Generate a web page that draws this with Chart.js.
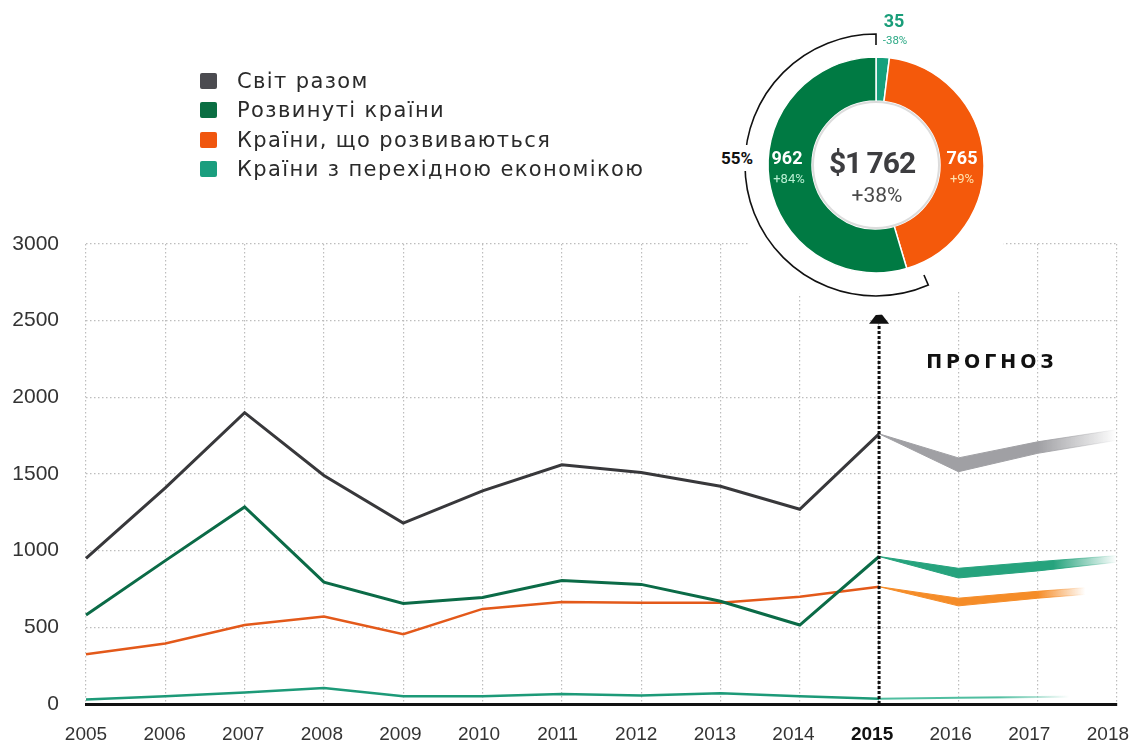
<!DOCTYPE html>
<html>
<head>
  <meta charset="utf-8">
  <title>Прогноз</title>
  <script src="https://cdn.jsdelivr.net/npm/chart.js@4.4.1/dist/chart.umd.min.js"></script>
  <style>
    html, body { margin: 0; padding: 0; background: #fff; }
    #wrap { position: relative; width: 1132px; height: 745px; overflow: hidden; font-family: "DejaVu Sans", sans-serif; }
    #lines { position: absolute; left: 0; top: 0; }
    #donut { position: absolute; left: 721px; top: 10px; }
    .t { position: absolute; transform: translate(-50%, -50%); white-space: nowrap; line-height: 1; font-family: Roboto, sans-serif; }
    .row { position: absolute; left: 200px; height: 20px; display: flex; align-items: center; }
    .sq { width: 17px; height: 16px; border-radius: 2px; margin-right: 20px; }
    .lab { font-size: 21px; color: #2a2a2a; letter-spacing: 1.4px; }
  </style>
</head>
<body>
<div id="wrap">
  <canvas id="lines" width="1132" height="745"></canvas>
  <canvas id="donut" width="310" height="310"></canvas>
  <div id="legend"></div>
  <div id="labels"></div>
</div>
<script>
  // --- data ---
  const years = ['2005', '2006', '2007', '2008', '2009', '2010', '2011', '2012', '2013', '2014', '2015', '2016', '2017', '2018'];
  const forecastIdx = 10; // 2015

  const names = ['Світ разом', 'Розвинуті країни', 'Країни, що розвиваються', 'Країни з перехідною економікою'];

  const world = [950, 1410, 1900, 1490, 1180, 1390, 1560, 1510, 1420, 1270, 1762];
  const developed = [580, 935, 1285, 795, 655, 695, 805, 780, 670, 515, 962];
  const developing = [325, 395, 515, 570, 455, 620, 665, 660, 660, 700, 765];
  const transition = [30, 50, 75, 105, 50, 50, 65, 55, 70, 50, 35];

  // forecast 2015..2018 (bands)
  const worldLow = [1762, 1515, 1635, 1720];
  const worldHigh = [1762, 1605, 1710, 1790];
  const devLow = [962, 822, 868, 925];
  const devHigh = [962, 885, 928, 968];
  const dvgLow = [765, 640, 690, 730];
  const dvgHigh = [765, 690, 735, 775];
  const transFc = [35, 40, 45, 50];

  const yMax = 3000;
  const yStep = 500;

  // 2015 structure
  const share = [35, 765, 962]; // transition, developing, developed
  const shareChange = ['-38%', '+9%', '+84%'];
  const total = 1762;
  const totalChange = '+38%';
  const developedPct = '55%';

  const colWorld = '#38383b', colDev = '#0b6b47', colDvg = '#e3591a', colTr = '#1d9a78';
  const legendCols = ['#4b4b50', '#0a6e42', '#f0560e', '#1a9e7e'];

  const pad = n => Array(n).fill(null);

  function fade(rgb, from, to) {
    return function(c) {
      const ch = c.chart;
      if (!ch.chartArea) return 'rgba(' + rgb + ',1)';
      const xs = ch.scales.x;
      const g = ch.ctx.createLinearGradient(xs.getPixelForValue(from), 0, xs.getPixelForValue(to), 0);
      g.addColorStop(0, 'rgba(' + rgb + ',1)');
      g.addColorStop(1, 'rgba(' + rgb + ',0)');
      return g;
    };
  }

  function band(low, high, rgb, from, to) {
    const f = fade(rgb, from, to);
    return [
      { data: pad(forecastIdx).concat(low), borderColor: f, borderWidth: 1, pointRadius: 0, fill: false },
      { data: pad(forecastIdx).concat(high), borderColor: f, backgroundColor: f, borderWidth: 1, pointRadius: 0, fill: '-1' }
    ];
  }

  // --- legend ---
  const leg = document.getElementById('legend');
  const rowY = [81, 110, 140, 169];
  names.forEach((n, i) => {
    const r = document.createElement('div');
    r.className = 'row';
    r.style.top = (rowY[i] - 10) + 'px';
    r.innerHTML = '<div class="sq" style="background:' + legendCols[i] + '"></div><span class="lab">' + n + '</span>';
    leg.appendChild(r);
  });

  // --- text labels around the donut ---
  const fmt = v => String(v).replace(/\B(?=(\d{3})+(?!\d))/g, '\u2009');
  const labelDefs = [
    [share[0], 894, 20, 'bold 18px', '#1a9e7a'],
    [shareChange[0], 895, 40, '11.5px', '#2aa884'],
    [developedPct, 737, 158, 'bold 17px', '#111'],
    [share[2], 787, 157, 'bold 18px', '#fff'],
    [shareChange[2], 789, 178, '13px', '#b8efd3'],
    [share[1], 962, 157, 'bold 18px', '#fff'],
    [shareChange[1], 962, 178, '13px', '#ffe2ad'],
    ['$' + fmt(total), 872, 162, 'bold 30px', '#3d3d40'],
    [totalChange, 877, 195, '21px', '#4a4a4a']
  ];
  const lbl = document.getElementById('labels');
  labelDefs.forEach(d => {
    const e = document.createElement('div');
    e.className = 't';
    e.textContent = d[0];
    e.style.left = d[1] + 'px';
    e.style.top = d[2] + 'px';
    e.style.font = d[3] + ' Roboto, sans-serif';
    e.style.color = d[4];
    if (d[3].indexOf('30px') >= 0) e.style.letterSpacing = '-1px';
    if (d[0] === developedPct) { e.style.background = '#fff'; e.style.padding = '3px 1px'; }
    lbl.appendChild(e);
  });
  const pr = document.createElement('div');
  pr.className = 't';
  pr.textContent = 'ПРОГНОЗ';
  pr.style.left = '992px';
  pr.style.top = '361px';
  pr.style.font = 'bold 19px "DejaVu Sans", sans-serif';
  pr.style.letterSpacing = '4px';
  pr.style.color = '#111';
  lbl.appendChild(pr);

  // --- line chart ---
  const overlay = {
    id: 'overlay',
    afterDatasetsDraw(chart) {
      const { ctx, scales: { x, y } } = chart;
      const ax = x.getPixelForValue(forecastIdx);
      const base = y.getPixelForValue(2480);
      ctx.save();
      ctx.strokeStyle = '#111';
      ctx.lineWidth = 3;
      ctx.setLineDash([3, 2]);
      ctx.beginPath();
      ctx.moveTo(ax, y.bottom);
      ctx.lineTo(ax, base);
      ctx.stroke();
      ctx.setLineDash([]);
      ctx.fillStyle = '#111';
      ctx.beginPath();
      ctx.moveTo(ax - 10, base);
      ctx.lineTo(ax + 10, base);
      ctx.lineTo(ax, base - 13);
      ctx.closePath();
      ctx.fill();

      // x labels
      ctx.textAlign = 'center';
      ctx.textBaseline = 'middle';
      years.forEach((lab, i) => {
        ctx.font = (i === forecastIdx ? 'bold ' : '') + '19px "Liberation Sans"';
        ctx.fillStyle = i === forecastIdx ? '#111' : '#333';
        ctx.fillText(lab, x.getPixelForValue(i) - i * 0.7, y.bottom + 31);
      });
      ctx.restore();
    }
  };

  const lineDs = (data, color, w) => ({ data: data, borderColor: color, borderWidth: w, pointRadius: 0, fill: false });

  new Chart(document.getElementById('lines'), {
    type: 'line',
    data: {
      labels: years,
      datasets: [
        ...band(worldLow, worldHigh, '160,160,164', 12, 13),
        ...band(devLow, devHigh, '38,163,125', 12.2, 13),
        ...band(dvgLow, dvgHigh, '245,140,40', 12, 12.6),
        { data: pad(forecastIdx).concat(transFc), borderColor: fade('80,190,160', 11.5, 12.4), borderWidth: 2, pointRadius: 0, fill: false },
        lineDs(world, colWorld, 3),
        lineDs(developed, colDev, 3),
        lineDs(developing, colDvg, 2.5),
        lineDs(transition, colTr, 2.5)
      ]
    },
    options: {
      responsive: false,
      animation: false,
      events: [],
      layout: { padding: { top: 244, right: 15, bottom: 0, left: 0 } },
      plugins: { legend: { display: false }, tooltip: { enabled: false } },
      scales: {
        x: {
          offset: false,
          grid: { color: '#bdbdbd', lineWidth: 1.2, drawTicks: false },
          border: { display: true, color: '#111', width: 3, dash: [1.5, 2.5] },
          ticks: { display: false },
          afterFit(s) { s.height = 41; s.paddingLeft = 0; s.paddingRight = 0; }
        },
        y: {
          min: 0,
          max: yMax,
          grid: { color: '#bdbdbd', lineWidth: 1.2, drawTicks: false },
          border: { display: false, dash: [1.5, 2.5] },
          ticks: {
            stepSize: yStep, padding: 27, color: '#333',
            font: { family: 'Liberation Sans', size: 21 },
            callback: v => String(v)
          },
          afterFit(s) { s.width = 86; }
        }
      }
    },
    plugins: [overlay]
  });

  // --- donut ---
  const donutDeco = {
    id: 'donutDeco',
    beforeDraw(chart) {
      const { ctx, chartArea: a } = chart;
      const cx = (a.left + a.right) / 2, cy = (a.top + a.bottom) / 2;
      ctx.save();
      ctx.fillStyle = '#fff';
      ctx.beginPath();
      ctx.arc(cx, cy, 150, 0, Math.PI * 2);
      ctx.fill();
      ctx.restore();
    },
    afterDatasetsDraw(chart) {
      const { ctx, chartArea: a } = chart;
      const cx = (a.left + a.right) / 2, cy = (a.top + a.bottom) / 2;
      const arc = chart.getDatasetMeta(0).data[0];
      const rin = arc.innerRadius;
      ctx.save();
      ctx.strokeStyle = '#dcdcdc';
      ctx.lineWidth = 2;
      ctx.beginPath();
      ctx.arc(cx, cy, rin - 1, 0, Math.PI * 2);
      ctx.stroke();

      // bracket around developed share
      const frac = share[2] / share.reduce((s, v) => s + v, 0);
      const a0 = -Math.PI / 2;
      const a1 = a0 - frac * Math.PI * 2 - 7 * Math.PI / 180;
      const R = 131, r2 = 120;
      ctx.strokeStyle = '#111';
      ctx.lineWidth = 1.6;
      ctx.beginPath();
      ctx.moveTo(cx + r2 * Math.cos(a0), cy + r2 * Math.sin(a0));
      ctx.lineTo(cx + R * Math.cos(a0), cy + R * Math.sin(a0));
      ctx.arc(cx, cy, R, a0, a1, true);
      ctx.lineTo(cx + r2 * Math.cos(a1), cy + r2 * Math.sin(a1));
      ctx.stroke();
      ctx.restore();
    }
  };

  new Chart(document.getElementById('donut'), {
    type: 'doughnut',
    data: {
      labels: [names[3], names[2], names[1]],
      datasets: [{ data: share, backgroundColor: ['#16a07c', '#f4590b', '#007a43'], borderColor: '#fff', borderWidth: 1.5 }]
    },
    options: {
      responsive: false,
      animation: false,
      events: [],
      radius: 108,
      cutout: (64 / 108 * 100) + '%',
      plugins: { legend: { display: false }, tooltip: { enabled: false } }
    },
    plugins: [donutDeco]
  });
</script>
</body>
</html>
